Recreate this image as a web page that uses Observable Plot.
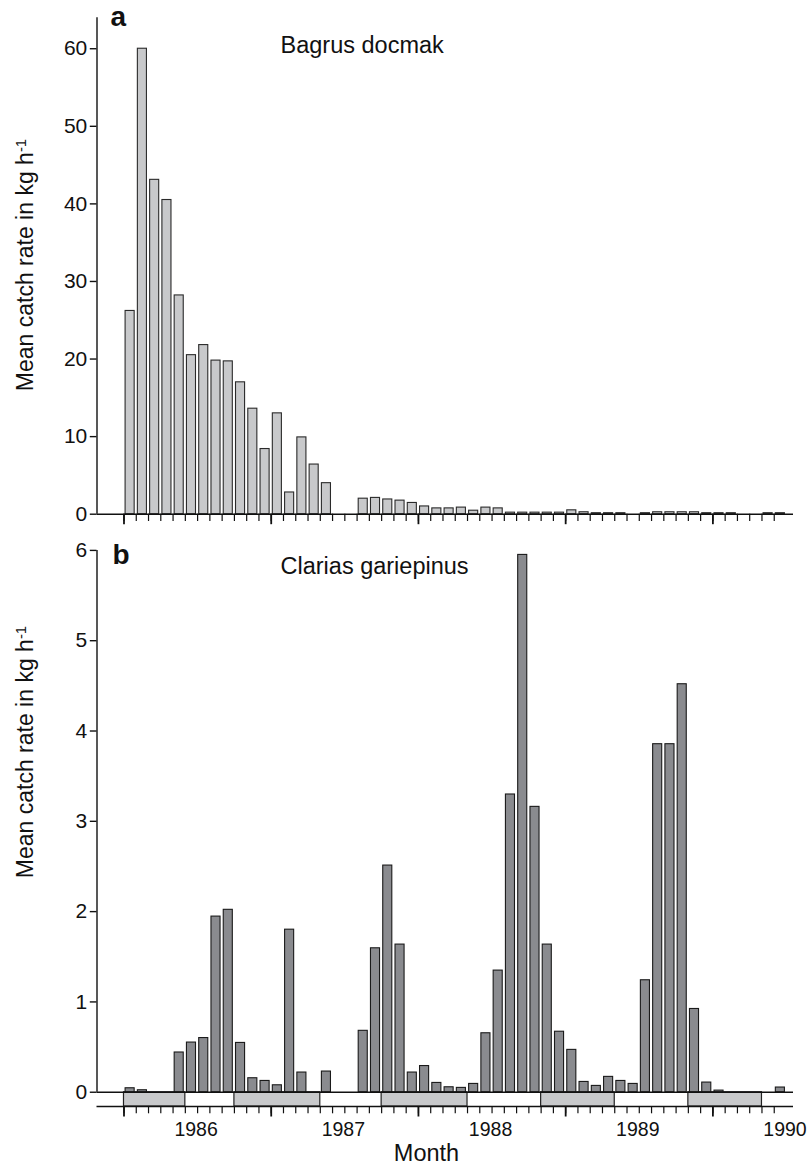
<!DOCTYPE html>
<html><head><meta charset="utf-8">
<script src="https://cdn.jsdelivr.net/npm/d3@7"></script>
<script src="https://cdn.jsdelivr.net/npm/@observablehq/plot@0.6"></script>
<style>
body{margin:0;background:#fff;}
#chart{width:807px;}
#chart svg{display:block;}
</style></head><body><div id="chart"></div>
<script>
// ---- data ----
const firstMonth = "1985-07"; // first month on the axis (Jul 1985 ... Dec 1989)
const bagrusCatch = [26.2, 60.0, 43.1, 40.5, 28.2, 20.5, 21.8, 19.8, 19.7, 17.0, 13.6, 8.4, 13.0, 2.8, 9.9, 6.4, 4.0,
  null, null,
  2.0, 2.1, 1.9, 1.75, 1.45, 1.0, 0.75, 0.75, 0.85, 0.45, 0.85, 0.75,
  0.2, 0.2, 0.2, 0.2, 0.2, 0.5, 0.25, 0.13, 0.13, 0.13, null, 0.13, 0.25, 0.25, 0.25, 0.25,
  0.13, 0.13, 0.13, null, null, 0.13, 0.13];
const clariasCatch = [0.044, 0.022, 0, 0, 0.44, 0.55, 0.60, 1.945, 2.02, 0.546, 0.155, 0.125, 0.077, 1.80, 0.218,
  null, 0.229, null, null,
  0.68, 1.594, 2.51, 1.635, 0.218, 0.29, 0.103, 0.055, 0.048, 0.092,
  0.653, 1.347, 3.297, 5.95, 3.16, 1.635, 0.67, 0.469,
  0.114, 0.07, 0.17, 0.125, 0.092, 1.24,
  3.854, 3.854, 4.518, 0.922, 0.107, 0.018,
  0, 0, 0, 0, 0.052];
const seasonStart = ["1985-07", "1986-04", "1987-04", "1988-05", "1989-05"];
const seasonEnd   = ["1985-12", "1986-11", "1987-11", "1988-11", "1989-11"];
const yearLabels = ["1986", "1987", "1988", "1989", "1990"];
const yearTickMonths = ["1986-01", "1987-01", "1988-01", "1989-01", "1990-01"];
const longTickMonths = ["1985-07", "1986-07", "1987-07", "1988-07", "1989-07"];
const yTicksA = [0, 10, 20, 30, 40, 50, 60];
const yTicksB = [0, 1, 2, 3, 4, 5, 6];
const speciesA = "Bagrus docmak";
const speciesB = "Clarias gariepinus";
const panelA = "a", panelB = "b";
const yLabel = "Mean catch rate in kg h";
const yLabelSup = "-1";
const xLabel = "Month";

// ---- helpers ----
function mi(s) {
  const [y, m] = s.split("-").map(Number);
  const [y0, m0] = firstMonth.split("-").map(Number);
  return (y - y0) * 12 + (m - m0);
}
const monthIdx = d3.range(bagrusCatch.length);
const dataA = bagrusCatch.map((v, i) => ({i, v})).filter(d => d.v != null);
const dataB = clariasCatch.map((v, i) => ({i, v})).filter(d => d.v != null);
const seasons = seasonStart.map((s, k) => ({s: mi(s), e: mi(seasonEnd[k])}));
const yearIdx = yearTickMonths.map(mi);
const longIdx = longTickMonths.map(mi);

const FONT = "'Liberation Sans', Arial, Helvetica, sans-serif";
const INK = "#111";
const xDomain = [-2.2, 54.57];
const BAND = -0.158;

function addYLabel(svg, cx, cy) {
  const t = d3.select(svg).append("text")
    .attr("transform", `translate(${cx},${cy}) rotate(-90)`)
    .attr("text-anchor", "middle")
    .attr("font-family", FONT)
    .attr("font-size", 23)
    .attr("fill", INK);
  t.append("tspan").text(yLabel);
  t.append("tspan").attr("dy", "-0.45em").attr("font-size", "0.65em").text(yLabelSup);
}

const common = {
  width: 807,
  marginLeft: 96.5, marginRight: 14,
  style: {fontFamily: FONT, fontSize: "21px", color: INK, background: "white", overflow: "visible"},
};

const plotA = Plot.plot({
  ...common,
  height: 535, marginTop: 17.2, marginBottom: 21.3,
  x: {type: "linear", domain: xDomain, axis: null},
  y: {domain: [0, 64], axis: null},
  marks: [
    Plot.rect(dataA, {x1: "i", x2: d => d.i + 1, y1: 0, y2: "v", fill: "#c8c9cb", stroke: "#2a2a2a", strokeWidth: 1.1, insetLeft: 1.6, insetRight: 1.6}),
    Plot.ruleY([0], {stroke: INK, strokeWidth: 1.4}),
    Plot.ruleX([xDomain[0]], {y1: 0, y2: 64, stroke: INK, strokeWidth: 1.4}),
    Plot.axisY(yTicksA, {tickSize: 6.7, tickPadding: 3, stroke: INK, strokeWidth: 1.4, tickFormat: d => String(d), label: null}),
    Plot.ruleX(monthIdx, {x: d => d, y1: 0, y2: 0, insetBottom: -7.3, stroke: INK, strokeWidth: 1.2}),
    Plot.ruleX(longIdx, {x: d => d, y1: 0, y2: 0, insetBottom: -10.5, stroke: INK, strokeWidth: 1.8}),
    Plot.text([speciesA], {frameAnchor: "top-left", dx: 183.5, dy: 34.8, lineAnchor: "bottom", textAnchor: "start", fontSize: 23.5, fill: INK}),
    Plot.text([panelA], {frameAnchor: "top-left", dx: 13.5, dy: 7.8, lineAnchor: "bottom", textAnchor: "start", fontSize: 28, fontWeight: "bold", fill: INK})
  ]
});
addYLabel(plotA, 33, 265);

const plotB = Plot.plot({
  ...common,
  height: 632, marginTop: 14.9, marginBottom: 61,
  x: {type: "linear", domain: xDomain, axis: null},
  y: {domain: [BAND, 6], axis: null},
  marks: [
    Plot.rect(seasons, {x1: "s", x2: "e", y1: BAND, y2: 0, fill: "#c8c9cb", stroke: "#222", strokeWidth: 1.2}),
    Plot.rect(dataB, {x1: "i", x2: d => d.i + 1, y1: 0, y2: "v", fill: "#8a8b8f", stroke: "#1a1a1a", strokeWidth: 1.1, insetLeft: 1.6, insetRight: 1.6}),
    Plot.ruleY([0, BAND], {stroke: INK, strokeWidth: 1.4}),
    Plot.ruleX([xDomain[0]], {y1: 0, y2: 6, stroke: INK, strokeWidth: 1.4}),
    Plot.axisY(yTicksB, {tickSize: 6.7, tickPadding: 3, stroke: INK, strokeWidth: 1.4, tickFormat: d => String(d), label: null}),
    Plot.ruleX(monthIdx, {x: d => d, y1: BAND, y2: BAND, insetBottom: -7.3, stroke: INK, strokeWidth: 1.2}),
    Plot.ruleX(longIdx, {x: d => d, y1: BAND, y2: BAND, insetBottom: -10.5, stroke: INK, strokeWidth: 1.8}),
    Plot.axisX(yearIdx, {tickSize: 0, tickPadding: 15.5, dx: -1.5, fontSize: 19.5, tickFormat: d => yearLabels[yearIdx.indexOf(d)], label: null, fill: INK}),
    Plot.text([xLabel], {frameAnchor: "bottom", dx: -18.75, dy: 54, lineAnchor: "bottom", fontSize: 23.5, fill: INK}),
    Plot.text([speciesB], {frameAnchor: "top-left", dx: 183.5, dy: 23.4, lineAnchor: "bottom", textAnchor: "start", fontSize: 23.5, fill: INK}),
    Plot.text([panelB], {frameAnchor: "top-left", dx: 15.5, dy: 13.4, lineAnchor: "bottom", textAnchor: "start", fontSize: 28, fontWeight: "bold", fill: INK})
  ]
});
addYLabel(plotB, 33, 217);

document.getElementById("chart").append(plotA, plotB);
</script>
</body></html>
